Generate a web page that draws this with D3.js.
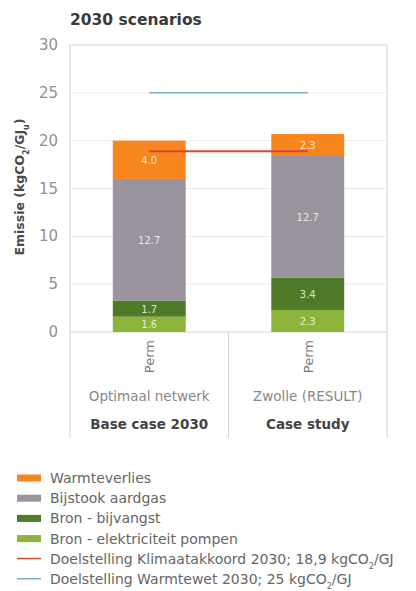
<!DOCTYPE html>
<html>
<head>
<meta charset="utf-8">
<script src="https://cdn.jsdelivr.net/npm/d3@7"></script>
<style>
  body { margin: 0; background: #fff; }
  text { font-family: "DejaVu Sans", "Liberation Sans", sans-serif; }
</style>
</head>
<body>
<div id="chart"></div>
<script>
// data
var scenarios = ["Optimaal netwerk", "Zwolle (RESULT)"];
var groups = ["Base case 2030", "Case study"];
var subLabels = ["Perm", "Perm"];
var seriesNames = ["Bron - elektriciteit pompen", "Bron - bijvangst", "Bijstook aardgas", "Warmteverlies"];
var elektriciteit = [1.6, 2.3];
var bijvangst = [1.7, 3.4];
var aardgas = [12.7, 12.7];
var warmteverlies = [4.0, 2.3];
var klimaatakkoord = 18.9;
var warmtewet = 25;
var yTicks = [0, 5, 10, 15, 20, 25, 30];
var legendItems = ["Warmteverlies", "Bijstook aardgas", "Bron - bijvangst", "Bron - elektriciteit pompen",
                   "Doelstelling Klimaatakkoord 2030; 18,9 kgCO", "Doelstelling Warmtewet 2030; 25 kgCO"];

var colours = {
  "Bron - elektriciteit pompen": "#8cb43a",
  "Bron - bijvangst": "#4f7a27",
  "Bijstook aardgas": "#9a949f",
  "Warmteverlies": "#f7861f"
};
var redLine = "#d8492e", blueLine = "#79aed0";

var svg = d3.select("#chart").append("svg")
  .attr("width", 416)
  .attr("height", 591);

var plotLeft = 70, plotRight = 387, plotTop = 45, plotBottom = 332;

var y = d3.scaleLinear().domain([0, 30]).range([plotBottom, plotTop]);
var x = d3.scaleBand().domain(scenarios).range([plotLeft, plotRight]).paddingInner(0).paddingOuter(0);
var barW = x.bandwidth() * 0.46;

// title
svg.append("text")
  .attr("x", 70).attr("y", 25)
  .text("2030 scenarios")
  .style("font-weight", "bold")
  .style("font-size", "15.5px")
  .style("fill", "#3a3a3a");

// gridlines
svg.append("g").selectAll("line")
  .data(yTicks.slice(1, -1))
  .enter().append("line")
  .attr("x1", plotLeft).attr("x2", plotRight)
  .attr("y1", function(d) { return y(d); })
  .attr("y2", function(d) { return y(d); })
  .style("stroke", "#ececec");

// plot border
svg.append("rect")
  .attr("x", plotLeft).attr("y", plotTop)
  .attr("width", plotRight - plotLeft).attr("height", plotBottom - plotTop)
  .style("fill", "none")
  .style("stroke", "#d4d4d4");

// category separators under the axis
svg.append("g").selectAll("line")
  .data([plotLeft, x(scenarios[1]), plotRight])
  .enter().append("line")
  .attr("x1", function(d) { return d; })
  .attr("x2", function(d) { return d; })
  .attr("y1", plotBottom).attr("y2", 438)
  .style("stroke", "#d4d4d4");

// y tick labels
svg.append("g").selectAll("text")
  .data(yTicks)
  .enter().append("text")
  .attr("x", 58)
  .attr("y", function(d) { return y(d) + 5; })
  .attr("text-anchor", "end")
  .text(function(d) { return d; })
  .style("font-size", "15px")
  .style("fill", "#919191");

// y axis title
var yTitle = svg.append("text")
  .attr("transform", "translate(24,187) rotate(-90)")
  .attr("text-anchor", "middle")
  .style("font-size", "12.5px")
  .style("font-weight", "bold")
  .style("fill", "#4a4a4a");
yTitle.append("tspan").text("Emissie (kgCO");
yTitle.append("tspan").text("2").style("font-size", "8px").attr("baseline-shift", "sub");
yTitle.append("tspan").text("/GJ");
yTitle.append("tspan").text("u").style("font-size", "8px").attr("baseline-shift", "sub");
yTitle.append("tspan").text(")");

// stacked bars
var table = scenarios.map(function(s, i) {
  return {
    scenario: s,
    "Bron - elektriciteit pompen": elektriciteit[i],
    "Bron - bijvangst": bijvangst[i],
    "Bijstook aardgas": aardgas[i],
    "Warmteverlies": warmteverlies[i]
  };
});
var stacked = d3.stack().keys(seriesNames)(table);

var layers = svg.append("g").selectAll("g")
  .data(stacked)
  .enter().append("g")
  .style("fill", function(d) { return colours[d.key]; });

layers.selectAll("rect")
  .data(function(d) { return d; })
  .enter().append("rect")
  .attr("x", function(d) { return x(d.data.scenario) + (x.bandwidth() - barW) / 2; })
  .attr("y", function(d) { return y(d[1]); })
  .attr("width", barW)
  .attr("height", function(d) { return y(d[0]) - y(d[1]); });

layers.selectAll("text")
  .data(function(d) { return d; })
  .enter().append("text")
  .attr("x", function(d) { return x(d.data.scenario) + x.bandwidth() / 2; })
  .attr("y", function(d) { return (y(d[0]) + y(d[1])) / 2 + 4; })
  .attr("text-anchor", "middle")
  .text(function(d) { return d3.format(".1f")(d[1] - d[0]); })
  .style("font-size", "10px")
  .style("fill", "#f4f4ee")
  .style("opacity", 0.85);

// target lines, from centre to centre
var cx0 = x(scenarios[0]) + x.bandwidth() / 2, cx1 = x(scenarios[1]) + x.bandwidth() / 2;
svg.append("line")
  .attr("x1", cx0).attr("x2", cx1)
  .attr("y1", y(warmtewet)).attr("y2", y(warmtewet))
  .style("stroke", blueLine).style("stroke-width", 1.5);
svg.append("line")
  .attr("x1", cx0).attr("x2", cx1)
  .attr("y1", y(klimaatakkoord)).attr("y2", y(klimaatakkoord))
  .style("stroke", redLine).style("stroke-width", 2);

// category labels
svg.append("g").selectAll("text")
  .data(scenarios)
  .enter().append("text")
  .attr("transform", function(d) { return "translate(" + (x(d) + x.bandwidth() / 2 + 5) + ",340) rotate(-90)"; })
  .attr("text-anchor", "end")
  .text(function(d, i) { return subLabels[i]; })
  .style("font-size", "13px")
  .style("fill", "#777");

svg.append("g").selectAll("text")
  .data(scenarios)
  .enter().append("text")
  .attr("x", function(d) { return x(d) + x.bandwidth() / 2; })
  .attr("y", 401)
  .attr("text-anchor", "middle")
  .text(function(d) { return d; })
  .style("font-size", "13.5px")
  .style("fill", "#888");

svg.append("g").selectAll("text")
  .data(groups)
  .enter().append("text")
  .attr("x", function(d, i) { return x(scenarios[i]) + x.bandwidth() / 2; })
  .attr("y", 429)
  .attr("text-anchor", "middle")
  .text(function(d) { return d; })
  .style("font-size", "13.5px")
  .style("font-weight", "bold")
  .style("fill", "#444");

// legend
var legendColours = ["#f7861f", "#9a949f", "#4f7a27", "#8cb43a", redLine, blueLine];
var legend = svg.append("g").selectAll("g")
  .data(legendItems)
  .enter().append("g")
  .attr("transform", function(d, i) { return "translate(17," + (478 + i * 20.2) + ")"; });

legend.append("rect")
  .attr("x", 0)
  .attr("y", function(d, i) { return i < 4 ? -3.5 : -1; })
  .attr("width", 24)
  .attr("height", function(d, i) { return i < 4 ? 7 : 1.5; })
  .style("fill", function(d, i) { return legendColours[i]; });

var legendText = legend.append("text")
  .attr("x", 33).attr("y", 5)
  .style("font-size", "14px")
  .style("fill", "#666");
legendText.append("tspan").text(function(d) { return d; });
legendText.filter(function(d, i) { return i >= 4; })
  .append("tspan").text("2").style("font-size", "8px").attr("baseline-shift", "sub");
legendText.filter(function(d, i) { return i >= 4; })
  .append("tspan").text("/GJ");
</script>
</body>
</html>
